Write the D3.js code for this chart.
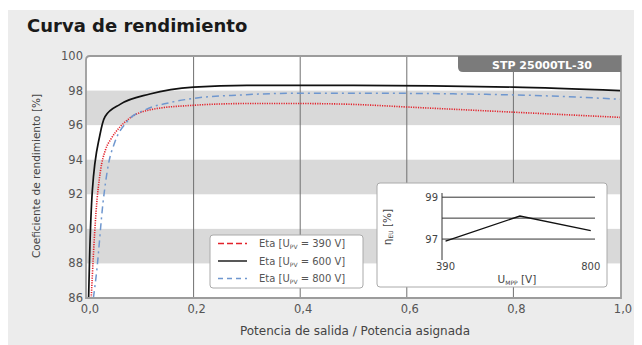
<!DOCTYPE html>
<html>
<head>
<meta charset="utf-8">
<script src="https://cdn.jsdelivr.net/npm/d3@7/dist/d3.min.js"></script>
<style>
  body { margin: 0; background: #fff; }
  text { font-family: "DejaVu Sans", Verdana, sans-serif; }
</style>
</head>
<body>
<div id="chart"></div>
<script>
const title = "Curva de rendimiento";
const model = "STP 25000TL-30";
const xTicks = [0, 0.2, 0.4, 0.6, 0.8, 1.0];
const yTicks = [86, 88, 90, 92, 94, 96, 98, 100];
const bands = [[96, 98], [92, 94], [88, 90]];

// output power ratio / efficiency per input voltage
const eta390x = [0.008, 0.012, 0.017, 0.025, 0.035, 0.045, 0.062, 0.08, 0.12, 0.2, 0.3, 0.4, 0.5, 0.6, 0.8, 1.0];
const eta390y = [86, 88.5, 91, 93.3, 94.6, 95.2, 95.9, 96.4, 96.9, 97.15, 97.25, 97.25, 97.2, 97.05, 96.75, 96.45];
const eta600x = [0.003, 0.005, 0.01, 0.024, 0.034, 0.062, 0.118, 0.2, 0.3, 0.5, 0.8, 1.0];
const eta600y = [86, 88.5, 92.2, 95.4, 96.5, 97.2, 97.8, 98.2, 98.3, 98.3, 98.2, 98.0];
const eta800x = [0.012, 0.018, 0.03, 0.04, 0.052, 0.075, 0.11, 0.155, 0.2, 0.29, 0.4, 0.5, 0.8, 1.0];
const eta800y = [86, 87.5, 91.5, 93.7, 95.0, 96.2, 96.9, 97.3, 97.55, 97.75, 97.85, 97.85, 97.75, 97.5];

const legendLabels = ["390 V", "600 V", "800 V"];

// euro efficiency vs MPP voltage (inset)
const euroV = [390, 600, 800];
const euroEta = [96.9, 98.1, 97.4];
const euroTicksY = [97, 99];
const euroLinesY = [97, 98, 99];
const euroTicksX = [390, 800];

const W = 642, H = 345;
const svg = d3.select("#chart").append("svg")
  .attr("width", W).attr("height", H);

svg.append("rect").attr("x", 8).attr("y", 10).attr("width", 626).attr("height", 335)
  .attr("fill", "#ececec");

svg.append("text").attr("x", 27).attr("y", 32)
  .attr("font-size", 18).attr("font-weight", "bold").attr("fill", "#1a1a1a")
  .text(title);

const m = {left: 86, right: 621, top: 56, bottom: 298};
const x = d3.scaleLinear().domain([0, 1]).range([m.left + 1, m.right - 1]);
const y = d3.scaleLinear().domain([86, 100]).range([m.bottom, m.top]);

svg.append("defs").append("clipPath").attr("id", "plotclip")
  .append("rect").attr("x", m.left).attr("y", m.top)
  .attr("width", m.right - m.left).attr("height", m.bottom - m.top);

svg.append("rect").attr("x", m.left).attr("y", m.top)
  .attr("width", m.right - m.left).attr("height", m.bottom - m.top)
  .attr("fill", "#fff");

svg.append("g").selectAll("rect").data(bands).join("rect")
  .attr("x", m.left).attr("width", m.right - m.left)
  .attr("y", d => y(d[1])).attr("height", d => y(d[0]) - y(d[1]))
  .attr("fill", "#d9d9d9");

svg.append("g").selectAll("line").data(xTicks.slice(1, -1)).join("line")
  .attr("x1", d => x(d)).attr("x2", d => x(d))
  .attr("y1", m.top).attr("y2", m.bottom)
  .attr("stroke", "#707070").attr("stroke-width", 1);

const plot = svg.append("g").attr("clip-path", "url(#plotclip)");
const series = [
  {xs: eta390x, ys: eta390y, color: "#e3222b", width: 1.6, dash: "1.2,1.2"},
  {xs: eta600x, ys: eta600y, color: "#111", width: 1.7, dash: null},
  {xs: eta800x, ys: eta800y, color: "#6f97cf", width: 1.5, dash: "7,4,2,4"}
];
const line = d3.line().x(d => x(d[0])).y(d => y(d[1])).curve(d3.curveMonotoneX);
plot.selectAll("path.curve").data(series).join("path")
  .attr("class", "curve")
  .attr("d", s => line(d3.zip(s.xs, s.ys)))
  .attr("fill", "none")
  .attr("stroke", s => s.color)
  .attr("stroke-width", s => s.width)
  .attr("stroke-dasharray", s => s.dash);

// frame
svg.append("path")
  .attr("d", `M${m.left},${m.bottom}V${m.top + 4}Q${m.left},${m.top} ${m.left + 4},${m.top}H${m.right}V${m.bottom}Z`)
  .attr("fill", "none").attr("stroke", "#9c9c9c").attr("stroke-width", 1.8);

// model badge
svg.append("path")
  .attr("d", `M458,${m.top}H${m.right}V72H463Q458,72 458,67Z`)
  .attr("fill", "#7b7b7b");
svg.append("text").attr("x", 542).attr("y", 68.5).attr("text-anchor", "middle")
  .attr("font-size", 11).attr("font-weight", "bold").attr("fill", "#fff")
  .text(model);

// axes labels
svg.append("g").selectAll("text").data(yTicks).join("text")
  .attr("x", m.left - 3).attr("y", d => y(d) + 4)
  .attr("text-anchor", "end").attr("font-size", 11.5).attr("fill", "#555")
  .text(d => d);
svg.append("g").selectAll("text").data(xTicks).join("text")
  .attr("x", d => x(d) + 3).attr("y", 313)
  .attr("text-anchor", "middle").attr("font-size", 11.5).attr("fill", "#555")
  .text(d => d3.format(".1f")(d).replace(".", ","));

svg.append("text").attr("transform", `translate(40,176) rotate(-90)`)
  .attr("text-anchor", "middle").attr("font-size", 10.5).attr("fill", "#444")
  .text("Coeficiente de rendimiento [%]");
svg.append("text").attr("x", 355).attr("y", 335)
  .attr("text-anchor", "middle").attr("font-size", 12).attr("fill", "#444")
  .text("Potencia de salida / Potencia asignada");

// legend
const lg = svg.append("g");
lg.append("rect").attr("x", 210).attr("y", 235).attr("width", 153).attr("height", 53)
  .attr("rx", 3).attr("fill", "#fff").attr("stroke", "#aaa");
const legendDash = ["6,3", null, "5,4"];
const rows = lg.selectAll("g.row").data(series).join("g")
  .attr("class", "row")
  .attr("transform", (d, i) => `translate(0,${243.5 + i * 17.5})`);
rows.append("line").attr("x1", 218).attr("x2", 247)
  .attr("stroke", s => s.color).attr("stroke-width", 1.4)
  .attr("stroke-dasharray", (s, i) => legendDash[i]);
const lt = rows.append("text").attr("x", 259).attr("y", 3.5)
  .attr("font-size", 10).attr("fill", "#555");
lt.append("tspan").text("Eta [U");
lt.append("tspan").attr("font-size", 6).attr("dy", 2).text("PV");
lt.append("tspan").attr("dy", -2).text((s, i) => " = " + legendLabels[i] + "]");

// inset: euro efficiency
const ig = svg.append("g");
ig.append("rect").attr("x", 377).attr("y", 183).attr("width", 230).attr("height", 104)
  .attr("rx", 3).attr("fill", "#fff").attr("stroke", "#aaa");
const ix = d3.scaleLinear().domain([380, 812]).range([442, 595]);
const iy = d3.scaleLinear().domain([96, 99.2]).range([260, 193]);
ig.append("g").selectAll("line").data(euroLinesY).join("line")
  .attr("x1", 442).attr("x2", 595).attr("y1", d => iy(d)).attr("y2", d => iy(d))
  .attr("stroke", "#333").attr("stroke-width", 1);
ig.append("line").attr("x1", 442).attr("x2", 442).attr("y1", 193).attr("y2", 260)
  .attr("stroke", "#333").attr("stroke-width", 1);
ig.append("path").attr("d", d3.line().x(d => ix(d[0])).y(d => iy(d[1]))(d3.zip(euroV, euroEta)))
  .attr("fill", "none").attr("stroke", "#111").attr("stroke-width", 1.4);
ig.append("g").selectAll("text").data(euroTicksY).join("text")
  .attr("x", 438).attr("y", d => iy(d) + 4).attr("text-anchor", "end")
  .attr("font-size", 10).attr("fill", "#444").text(d => d);
ig.append("g").selectAll("text").data(euroTicksX).join("text")
  .attr("x", d => ix(d)).attr("y", 270).attr("text-anchor", "middle")
  .attr("font-size", 10).attr("fill", "#444").text(d => d);
const ixl = ig.append("text").attr("x", 517).attr("y", 283).attr("text-anchor", "middle")
  .attr("font-size", 10.5).attr("fill", "#444");
ixl.append("tspan").text("U");
ixl.append("tspan").attr("font-size", 6).attr("dy", 2).text("MPP");
ixl.append("tspan").attr("dy", -2).text(" [V]");
const iyl = ig.append("text").attr("transform", "translate(391,227) rotate(-90)")
  .attr("text-anchor", "middle").attr("font-size", 10.5).attr("fill", "#444");
iyl.append("tspan").text("η");
iyl.append("tspan").attr("font-size", 6).attr("dy", 2).text("EU");
iyl.append("tspan").attr("dy", -2).text(" [%]");
</script>
</body>
</html>
